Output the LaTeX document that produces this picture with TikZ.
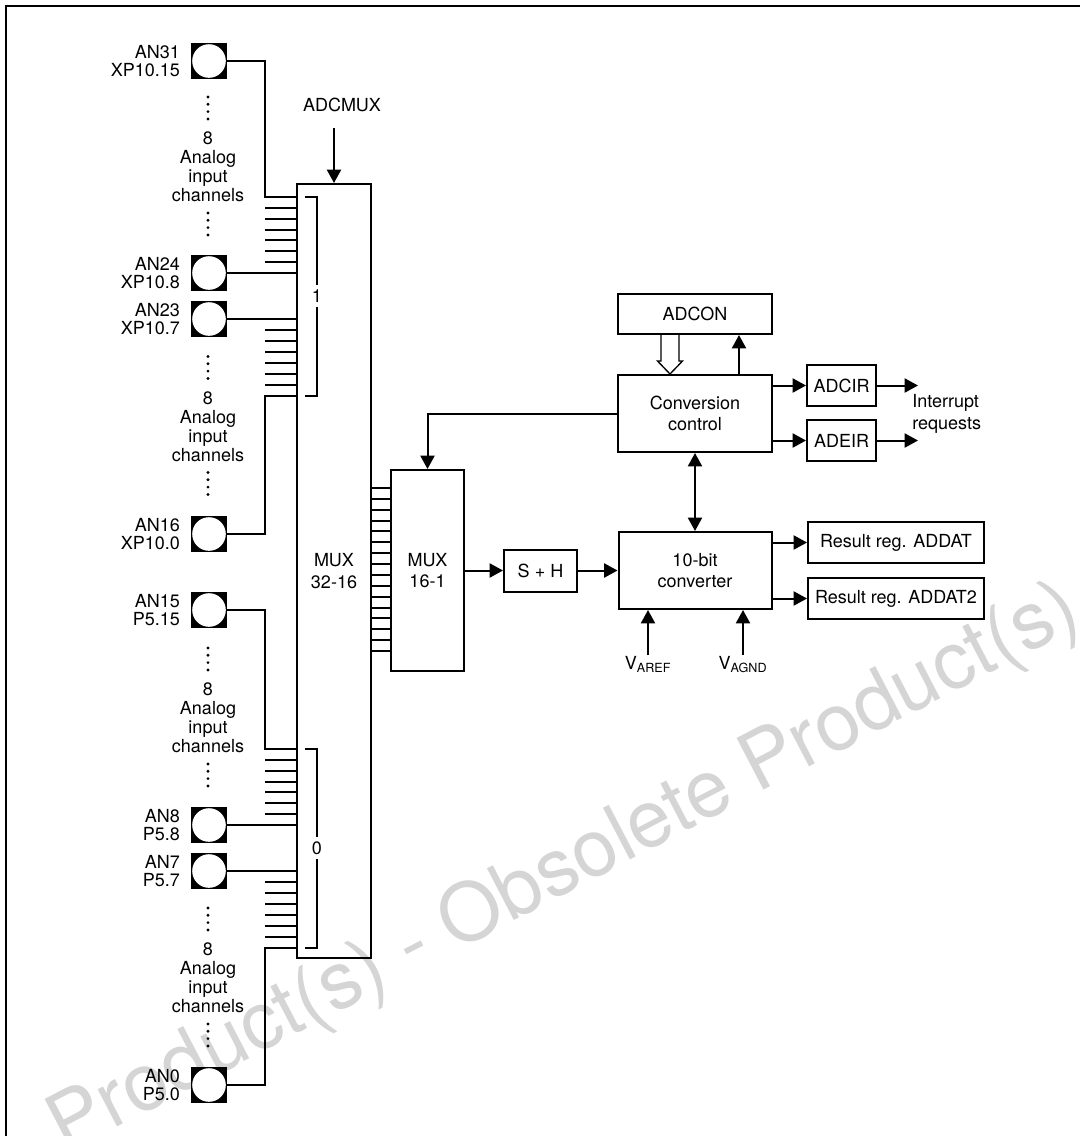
\documentclass[tikz,border=0pt]{standalone}
\usepackage{fontspec}
\setmainfont{TeX Gyre Heros}
\usetikzlibrary{arrows.meta,positioning}

\begin{document}
\begin{tikzpicture}[
        x=0.75pt, y=-0.75pt,
        every node/.style={
            font=\fontsize{13.5}{16.25}\selectfont
        },
        wire/.style={line width=1.5pt},
        blk/.style={
            draw,
            line width=1.5pt,
            inner sep=2pt,
            align=center
        },
        arr/.style={line width=1.5pt, -{Triangle[length=10pt,width=10.5pt]}},
        arrboth/.style={line width=1.5pt, {Triangle[length=10pt,width=10.5pt]}-{Triangle[length=10pt,width=10.5pt]}},
        pin/.style={
            fill=black,
            minimum size=27pt,
            inner sep=0pt,
            path picture={\fill[white] (path picture bounding box.center) circle (12.6pt);}
        },
        pinlbl/.style={
            align=right,
            inner sep=0pt,
            font=\fontsize{13.5}{13}\selectfont
        },
        chlbl/.style={
            align=center,
            inner sep=0pt,
            font=\fontsize{13.5}{14.25}\selectfont
        },
        vlbl/.style={anchor=north, inner sep=1pt}
    ]
    \useasboundingbox (0,0) rectangle (1080,1136);

    \node[rotate=27.5, text=gray!33, font=\fontsize{60}{64}\selectfont] (wm) at (565,870) {Product(s) - Obsolete Product(s)};

    \draw[line width=1.5pt] (6,1150) -- (6,6) -- (1090,6);

    \node[blk, minimum width=55.5pt, minimum height=580.5pt] (mux32) at (334,571) {MUX\\32-16};
    \node[blk, minimum width=54.75pt, minimum height=150.75pt] (mux16) at (427.5,570.5) {MUX\\16-1};
    \node[blk, minimum width=54.75pt, minimum height=31.5pt] (sh) at (540.5,570.5) {S + H};
    \node[blk, minimum width=114.75pt, minimum height=57.75pt] (conv) at (695,570.5) {10-bit\\converter};
    \node[blk, minimum width=115.5pt, minimum height=57.75pt] (ctrl) at (695,413.5) {Conversion\\control};
    \node[blk, minimum width=115.5pt, minimum height=30pt] (adcon) at (695,314) {ADCON};
    \node[blk, minimum width=51.75pt, minimum height=30.75pt] (adcir) at (841.5,385.5) {ADCIR};
    \node[blk, minimum width=51.75pt, minimum height=30.75pt] (adeir) at (841.5,440.5) {ADEIR};
    \node[blk, minimum width=132pt, minimum height=30.75pt] (addat) at (896,542.5) {Result reg. ADDAT};
    \node[blk, minimum width=132pt, minimum height=30.75pt] (addat2) at (896,598.5) {Result reg. ADDAT2};

    \foreach \nm/\y/\an/\pn in {a31/61/AN31/XP10.15, a24/273/AN24/XP10.8,
            a23/319/AN23/XP10.7, a16/534/AN16/XP10.0, a15/610/AN15/P5.15,
            a8/825/AN8/P5.8, a7/871/AN7/P5.7, a0/1085/AN0/P5.0} {
        \node[pin] (\nm) at (209,\y) {};
        \node[pinlbl, left=8pt of \nm] (\nm-lbl) {\an\\\pn};
    }

    \foreach \g/\y in {1/167, 2/426.5, 3/718, 4/978} {
        \node[chlbl] (ch\g) at (208,\y) {8\\Analog\\input\\channels};
        \foreach \k in {0,...,3} {
            \fill (208,{\y-70+7.3*\k}) circle (1.2pt);
            \fill (208,{\y+46+7.3*\k}) circle (1.2pt);
        }
    }

    \foreach \g/\ya/\yb in {1/197/273, 2/319/396, 3/749/825, 4/871/948} {
        \foreach \k in {0,...,7} {
            \coordinate (g\g-l\k) at (265,{\ya+(\yb-\ya)*\k/7});
            \coordinate (g\g-r\k) at (297,{\ya+(\yb-\ya)*\k/7});
        }
        \foreach \k in {1,...,6}
            \draw[wire] (g\g-l\k) -- (g\g-r\k);
    }

    \draw[wire] (a31.east) -| (g1-l0) -- (g1-r0);
    \draw[wire] (a24.east) -- (g1-r7);
    \draw[wire] (a23.east) -- (g2-r0);
    \draw[wire] (a16.east) -| (g2-l7) -- (g2-r7);
    \draw[wire] (a15.east) -| (g3-l0) -- (g3-r0);
    \draw[wire] (a8.east) -- (g3-r7);
    \draw[wire] (a7.east) -- (g4-r0);
    \draw[wire] (a0.east) -| (g4-l7) -- (g4-r7);

    \node[inner sep=3pt] (b1) at (317,296) {1};
    \draw[wire] ([xshift=6pt]g1-r0) -| (b1.north);
    \draw[wire] (b1.south) |- ([xshift=6pt]g2-r7);
    \node[inner sep=3pt] (b0) at (317,848) {0};
    \draw[wire] ([xshift=6pt]g3-r0) -| (b0.north);
    \draw[wire] (b0.south) |- ([xshift=6pt]g4-r7);

    \foreach \k in {0,...,15} {
        \coordinate (r\k) at (381,{488+10.87*\k});
        \draw[wire] (mux32.east |- r\k) -- (mux16.west |- r\k);
    }

    \node (adcmux) at (342,105) {ADCMUX};
    \coordinate (muxsel) at (334,128);
    \draw[arr] (muxsel) -- (mux32.north);

    \draw[arr] (ctrl.west) -| (mux16.north);
    \draw[arr] (mux16.east) -- (sh.west);
    \draw[arr] (sh.east) -- (conv.west);
    \draw[arrboth] (ctrl.south) -- (conv.north);
    \draw[arr] ([xshift=33pt]ctrl.north) -- ([xshift=33pt]adcon.south);
    \draw[line width=1pt, fill=white] ([xshift=-18.75pt]adcon.south) ++(-9,0) -- ++(0,26)
        -- ++(-3.5,0) -- ++(12.5,13) -- ++(12.5,-13) -- ++(-3.5,0) -- ++(0,-26);

    \draw[arr] (ctrl.east |- adcir) -- (adcir.west);
    \draw[arr] (ctrl.east |- adeir) -- (adeir.west);
    \coordinate (irq1) at (918,385.5);
    \coordinate (irq2) at (918,440.5);
    \draw[arr] (adcir.east) -- (irq1);
    \draw[arr] (adeir.east) -- (irq2);
    \node[align=left, anchor=west, inner sep=0pt] (irq) at (912,414) {Interrupt\\requests};

    \draw[arr] (conv.east |- addat) -- (addat.west);
    \draw[arr] (conv.east |- addat2) -- (addat2.west);

    \node[vlbl] (vref) at (648,655) {V\textsubscript{AREF}};
    \node[vlbl] (vagnd) at (743,655) {V\textsubscript{AGND}};
    \draw[arr] (vref.north) -- (vref.north |- conv.south);
    \draw[arr] (vagnd.north) -- (vagnd.north |- conv.south);
\end{tikzpicture}
\end{document}
